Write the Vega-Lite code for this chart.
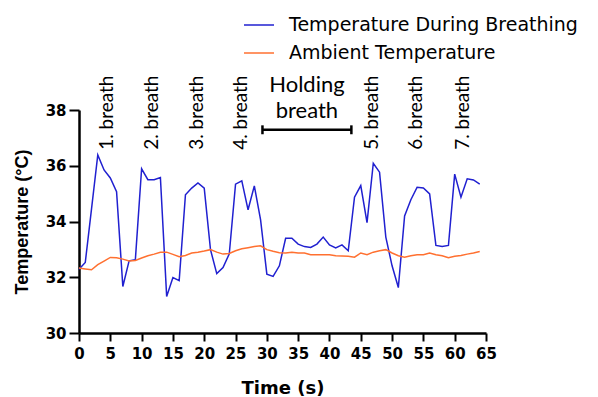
{
  "$schema": "https://vega.github.io/schema/vega-lite/v6.json",
  "autosize": {"type": "none"},
  "width": 407,
  "height": 223,
  "padding": {"left": 79, "top": 110, "right": 112, "bottom": 64},
  "config": {
    "view": {"stroke": null}
  },
  "datasets": {
    "temps": [
      {"t": 0, "value": 32.29, "series": "Temperature During Breathing"},
      {"t": 1, "value": 32.53, "series": "Temperature During Breathing"},
      {"t": 2, "value": 34.45, "series": "Temperature During Breathing"},
      {"t": 3, "value": 36.39, "series": "Temperature During Breathing"},
      {"t": 4, "value": 35.85, "series": "Temperature During Breathing"},
      {"t": 5, "value": 35.56, "series": "Temperature During Breathing"},
      {"t": 6, "value": 35.07, "series": "Temperature During Breathing"},
      {"t": 7, "value": 31.67, "series": "Temperature During Breathing"},
      {"t": 8, "value": 32.59, "series": "Temperature During Breathing"},
      {"t": 9, "value": 32.63, "series": "Temperature During Breathing"},
      {"t": 10, "value": 35.89, "series": "Temperature During Breathing"},
      {"t": 11, "value": 35.5, "series": "Temperature During Breathing"},
      {"t": 12, "value": 35.5, "series": "Temperature During Breathing"},
      {"t": 13, "value": 35.58, "series": "Temperature During Breathing"},
      {"t": 14, "value": 31.31, "series": "Temperature During Breathing"},
      {"t": 15, "value": 31.99, "series": "Temperature During Breathing"},
      {"t": 16, "value": 31.88, "series": "Temperature During Breathing"},
      {"t": 17, "value": 34.96, "series": "Temperature During Breathing"},
      {"t": 18, "value": 35.2, "series": "Temperature During Breathing"},
      {"t": 19, "value": 35.38, "series": "Temperature During Breathing"},
      {"t": 20, "value": 35.2, "series": "Temperature During Breathing"},
      {"t": 21, "value": 32.99, "series": "Temperature During Breathing"},
      {"t": 22, "value": 32.13, "series": "Temperature During Breathing"},
      {"t": 23, "value": 32.35, "series": "Temperature During Breathing"},
      {"t": 24, "value": 32.84, "series": "Temperature During Breathing"},
      {"t": 25, "value": 35.34, "series": "Temperature During Breathing"},
      {"t": 26, "value": 35.46, "series": "Temperature During Breathing"},
      {"t": 27, "value": 34.42, "series": "Temperature During Breathing"},
      {"t": 28, "value": 35.28, "series": "Temperature During Breathing"},
      {"t": 29, "value": 34.06, "series": "Temperature During Breathing"},
      {"t": 30, "value": 32.11, "series": "Temperature During Breathing"},
      {"t": 31, "value": 32.03, "series": "Temperature During Breathing"},
      {"t": 32, "value": 32.41, "series": "Temperature During Breathing"},
      {"t": 33, "value": 33.4, "series": "Temperature During Breathing"},
      {"t": 34, "value": 33.4, "series": "Temperature During Breathing"},
      {"t": 35, "value": 33.19, "series": "Temperature During Breathing"},
      {"t": 36, "value": 33.1, "series": "Temperature During Breathing"},
      {"t": 37, "value": 33.07, "series": "Temperature During Breathing"},
      {"t": 38, "value": 33.19, "series": "Temperature During Breathing"},
      {"t": 39, "value": 33.44, "series": "Temperature During Breathing"},
      {"t": 40, "value": 33.16, "series": "Temperature During Breathing"},
      {"t": 41, "value": 33.05, "series": "Temperature During Breathing"},
      {"t": 42, "value": 33.16, "series": "Temperature During Breathing"},
      {"t": 43, "value": 32.95, "series": "Temperature During Breathing"},
      {"t": 44, "value": 34.87, "series": "Temperature During Breathing"},
      {"t": 45, "value": 35.29, "series": "Temperature During Breathing"},
      {"t": 46, "value": 33.96, "series": "Temperature During Breathing"},
      {"t": 47, "value": 36.09, "series": "Temperature During Breathing"},
      {"t": 48, "value": 35.77, "series": "Temperature During Breathing"},
      {"t": 49, "value": 33.44, "series": "Temperature During Breathing"},
      {"t": 50, "value": 32.41, "series": "Temperature During Breathing"},
      {"t": 51, "value": 31.63, "series": "Temperature During Breathing"},
      {"t": 52, "value": 34.2, "series": "Temperature During Breathing"},
      {"t": 53, "value": 34.78, "series": "Temperature During Breathing"},
      {"t": 54, "value": 35.23, "series": "Temperature During Breathing"},
      {"t": 55, "value": 35.2, "series": "Temperature During Breathing"},
      {"t": 56, "value": 34.99, "series": "Temperature During Breathing"},
      {"t": 57, "value": 33.14, "series": "Temperature During Breathing"},
      {"t": 58, "value": 33.1, "series": "Temperature During Breathing"},
      {"t": 59, "value": 33.14, "series": "Temperature During Breathing"},
      {"t": 60, "value": 35.7, "series": "Temperature During Breathing"},
      {"t": 61, "value": 34.87, "series": "Temperature During Breathing"},
      {"t": 62, "value": 35.53, "series": "Temperature During Breathing"},
      {"t": 63, "value": 35.49, "series": "Temperature During Breathing"},
      {"t": 64, "value": 35.34, "series": "Temperature During Breathing"},
      {"t": 0, "value": 32.33, "series": "Ambient Temperature"},
      {"t": 1, "value": 32.3, "series": "Ambient Temperature"},
      {"t": 2, "value": 32.27, "series": "Ambient Temperature"},
      {"t": 3, "value": 32.45, "series": "Ambient Temperature"},
      {"t": 4, "value": 32.58, "series": "Ambient Temperature"},
      {"t": 5, "value": 32.71, "series": "Ambient Temperature"},
      {"t": 6, "value": 32.7, "series": "Ambient Temperature"},
      {"t": 7, "value": 32.65, "series": "Ambient Temperature"},
      {"t": 8, "value": 32.58, "series": "Ambient Temperature"},
      {"t": 9, "value": 32.6, "series": "Ambient Temperature"},
      {"t": 10, "value": 32.69, "series": "Ambient Temperature"},
      {"t": 11, "value": 32.77, "series": "Ambient Temperature"},
      {"t": 12, "value": 32.83, "series": "Ambient Temperature"},
      {"t": 13, "value": 32.9, "series": "Ambient Temperature"},
      {"t": 14, "value": 32.9, "series": "Ambient Temperature"},
      {"t": 15, "value": 32.82, "series": "Ambient Temperature"},
      {"t": 16, "value": 32.74, "series": "Ambient Temperature"},
      {"t": 17, "value": 32.78, "series": "Ambient Temperature"},
      {"t": 18, "value": 32.87, "series": "Ambient Temperature"},
      {"t": 19, "value": 32.9, "series": "Ambient Temperature"},
      {"t": 20, "value": 32.94, "series": "Ambient Temperature"},
      {"t": 21, "value": 32.99, "series": "Ambient Temperature"},
      {"t": 22, "value": 32.9, "series": "Ambient Temperature"},
      {"t": 23, "value": 32.83, "series": "Ambient Temperature"},
      {"t": 24, "value": 32.85, "series": "Ambient Temperature"},
      {"t": 25, "value": 32.95, "series": "Ambient Temperature"},
      {"t": 26, "value": 33.02, "series": "Ambient Temperature"},
      {"t": 27, "value": 33.06, "series": "Ambient Temperature"},
      {"t": 28, "value": 33.1, "series": "Ambient Temperature"},
      {"t": 29, "value": 33.13, "series": "Ambient Temperature"},
      {"t": 30, "value": 32.99, "series": "Ambient Temperature"},
      {"t": 31, "value": 32.93, "series": "Ambient Temperature"},
      {"t": 32, "value": 32.88, "series": "Ambient Temperature"},
      {"t": 33, "value": 32.87, "series": "Ambient Temperature"},
      {"t": 34, "value": 32.9, "series": "Ambient Temperature"},
      {"t": 35, "value": 32.87, "series": "Ambient Temperature"},
      {"t": 36, "value": 32.87, "series": "Ambient Temperature"},
      {"t": 37, "value": 32.81, "series": "Ambient Temperature"},
      {"t": 38, "value": 32.81, "series": "Ambient Temperature"},
      {"t": 39, "value": 32.81, "series": "Ambient Temperature"},
      {"t": 40, "value": 32.81, "series": "Ambient Temperature"},
      {"t": 41, "value": 32.77, "series": "Ambient Temperature"},
      {"t": 42, "value": 32.76, "series": "Ambient Temperature"},
      {"t": 43, "value": 32.75, "series": "Ambient Temperature"},
      {"t": 44, "value": 32.72, "series": "Ambient Temperature"},
      {"t": 45, "value": 32.87, "series": "Ambient Temperature"},
      {"t": 46, "value": 32.81, "series": "Ambient Temperature"},
      {"t": 47, "value": 32.9, "series": "Ambient Temperature"},
      {"t": 48, "value": 32.95, "series": "Ambient Temperature"},
      {"t": 49, "value": 32.99, "series": "Ambient Temperature"},
      {"t": 50, "value": 32.87, "series": "Ambient Temperature"},
      {"t": 51, "value": 32.77, "series": "Ambient Temperature"},
      {"t": 52, "value": 32.72, "series": "Ambient Temperature"},
      {"t": 53, "value": 32.77, "series": "Ambient Temperature"},
      {"t": 54, "value": 32.81, "series": "Ambient Temperature"},
      {"t": 55, "value": 32.81, "series": "Ambient Temperature"},
      {"t": 56, "value": 32.87, "series": "Ambient Temperature"},
      {"t": 57, "value": 32.81, "series": "Ambient Temperature"},
      {"t": 58, "value": 32.77, "series": "Ambient Temperature"},
      {"t": 59, "value": 32.7, "series": "Ambient Temperature"},
      {"t": 60, "value": 32.75, "series": "Ambient Temperature"},
      {"t": 61, "value": 32.78, "series": "Ambient Temperature"},
      {"t": 62, "value": 32.83, "series": "Ambient Temperature"},
      {"t": 63, "value": 32.87, "series": "Ambient Temperature"},
      {"t": 64, "value": 32.92, "series": "Ambient Temperature"}
    ],
    "breaths": [
      {"t": 4.4, "value": 36.57, "label": "1. breath"},
      {"t": 11.6, "value": 36.57, "label": "2. breath"},
      {"t": 18.8, "value": 36.57, "label": "3. breath"},
      {"t": 25.9, "value": 36.57, "label": "4. breath"},
      {"t": 46.8, "value": 36.57, "label": "5. breath"},
      {"t": 53.9, "value": 36.57, "label": "6. breath"},
      {"t": 61.3, "value": 36.57, "label": "7. breath"}
    ],
    "holdText": [
      {"t": 36.4, "value": 38.9, "label": "Holding"},
      {"t": 36.4, "value": 37.95, "label": "breath"}
    ],
    "bracket": [
      {"t": 29.3, "t2": 43.5, "value": 37.29, "value2": 37.29},
      {"t": 29.3, "t2": 29.3, "value": 37.13, "value2": 37.45},
      {"t": 43.5, "t2": 43.5, "value": 37.13, "value2": 37.45}
    ]
  },
  "encoding": {
    "x": {
      "field": "t", "type": "quantitative",
      "scale": {"domain": [0, 65], "nice": false, "zero": false},
      "axis": {
        "title": "Time (s)",
        "values": [0, 5, 10, 15, 20, 25, 30, 35, 40, 45, 50, 55, 60, 65],
        "grid": false,
        "domainColor": "black",
        "domainWidth": 2.5,
        "tickColor": "black",
        "tickWidth": 2,
        "tickSize": 8,
        "labelFont": "DejaVu Sans",
        "labelFontWeight": "bold",
        "labelFontSize": 15,
        "labelColor": "black",
        "labelOverlap": false,
        "labelFlush": false,
        "labelPadding": 5,
        "titleFont": "DejaVu Sans",
        "titleFontWeight": "bold",
        "titleFontSize": 18,
        "titleColor": "black",
        "titleY": 55,
        "titleBaseline": "middle"
      }
    },
    "y": {
      "field": "value", "type": "quantitative",
      "scale": {"domain": [30, 38], "nice": false, "zero": false},
      "axis": {
        "title": "Temperature (°C)",
        "values": [30, 32, 34, 36, 38],
        "grid": false,
        "domainColor": "black",
        "domainWidth": 2.5,
        "tickColor": "black",
        "tickWidth": 2,
        "tickSize": 10,
        "labelFont": "DejaVu Sans",
        "labelFontWeight": "bold",
        "labelFontSize": 15,
        "labelColor": "black",
        "labelOverlap": false,
        "labelFlush": false,
        "labelPadding": 3,
        "titleFont": "Liberation Sans",
        "titleFontWeight": "bold",
        "titleFontSize": 18,
        "titleColor": "black",
        "titleX": -57,
        "titleY": 111.5,
        "titleBaseline": "middle",
        "titleAngle": -90,
        "titleAlign": "center"
      }
    }
  },
  "layer": [
    {
      "data": {"name": "temps"},
      "mark": {"type": "line", "strokeWidth": 1.5},
      "encoding": {
        "color": {
          "field": "series", "type": "nominal",
          "scale": {
            "domain": ["Temperature During Breathing", "Ambient Temperature"],
            "range": ["#2020d0", "#ff7030"]
          },
          "legend": {
            "title": null,
            "orient": "none",
            "legendX": 164,
            "legendY": -101,
            "padding": 0,
            "symbolType": "stroke",
            "symbolSize": 900,
            "symbolStrokeWidth": 1.5,
            "labelFont": "DejaVu Sans",
            "labelFontSize": 19,
            "labelColor": "black",
            "labelLimit": 0,
            "labelOffset": 14,
            "rowPadding": 2
          }
        }
      }
    },
    {
      "data": {"name": "breaths"},
      "mark": {"type": "text", "angle": 270, "align": "left", "baseline": "middle", "font": "Lato", "fontSize": 19, "color": "black"},
      "encoding": {
        "text": {"field": "label"}
      }
    },
    {
      "data": {"name": "holdText"},
      "mark": {"type": "text", "align": "center", "baseline": "middle", "font": "Lato", "fontSize": 22, "color": "black"},
      "encoding": {
        "text": {"field": "label"}
      }
    },
    {
      "data": {"name": "bracket"},
      "mark": {"type": "rule", "color": "black", "strokeWidth": 2.5},
      "encoding": {
        "x2": {"field": "t2"},
        "y2": {"field": "value2"}
      }
    }
  ]
}
